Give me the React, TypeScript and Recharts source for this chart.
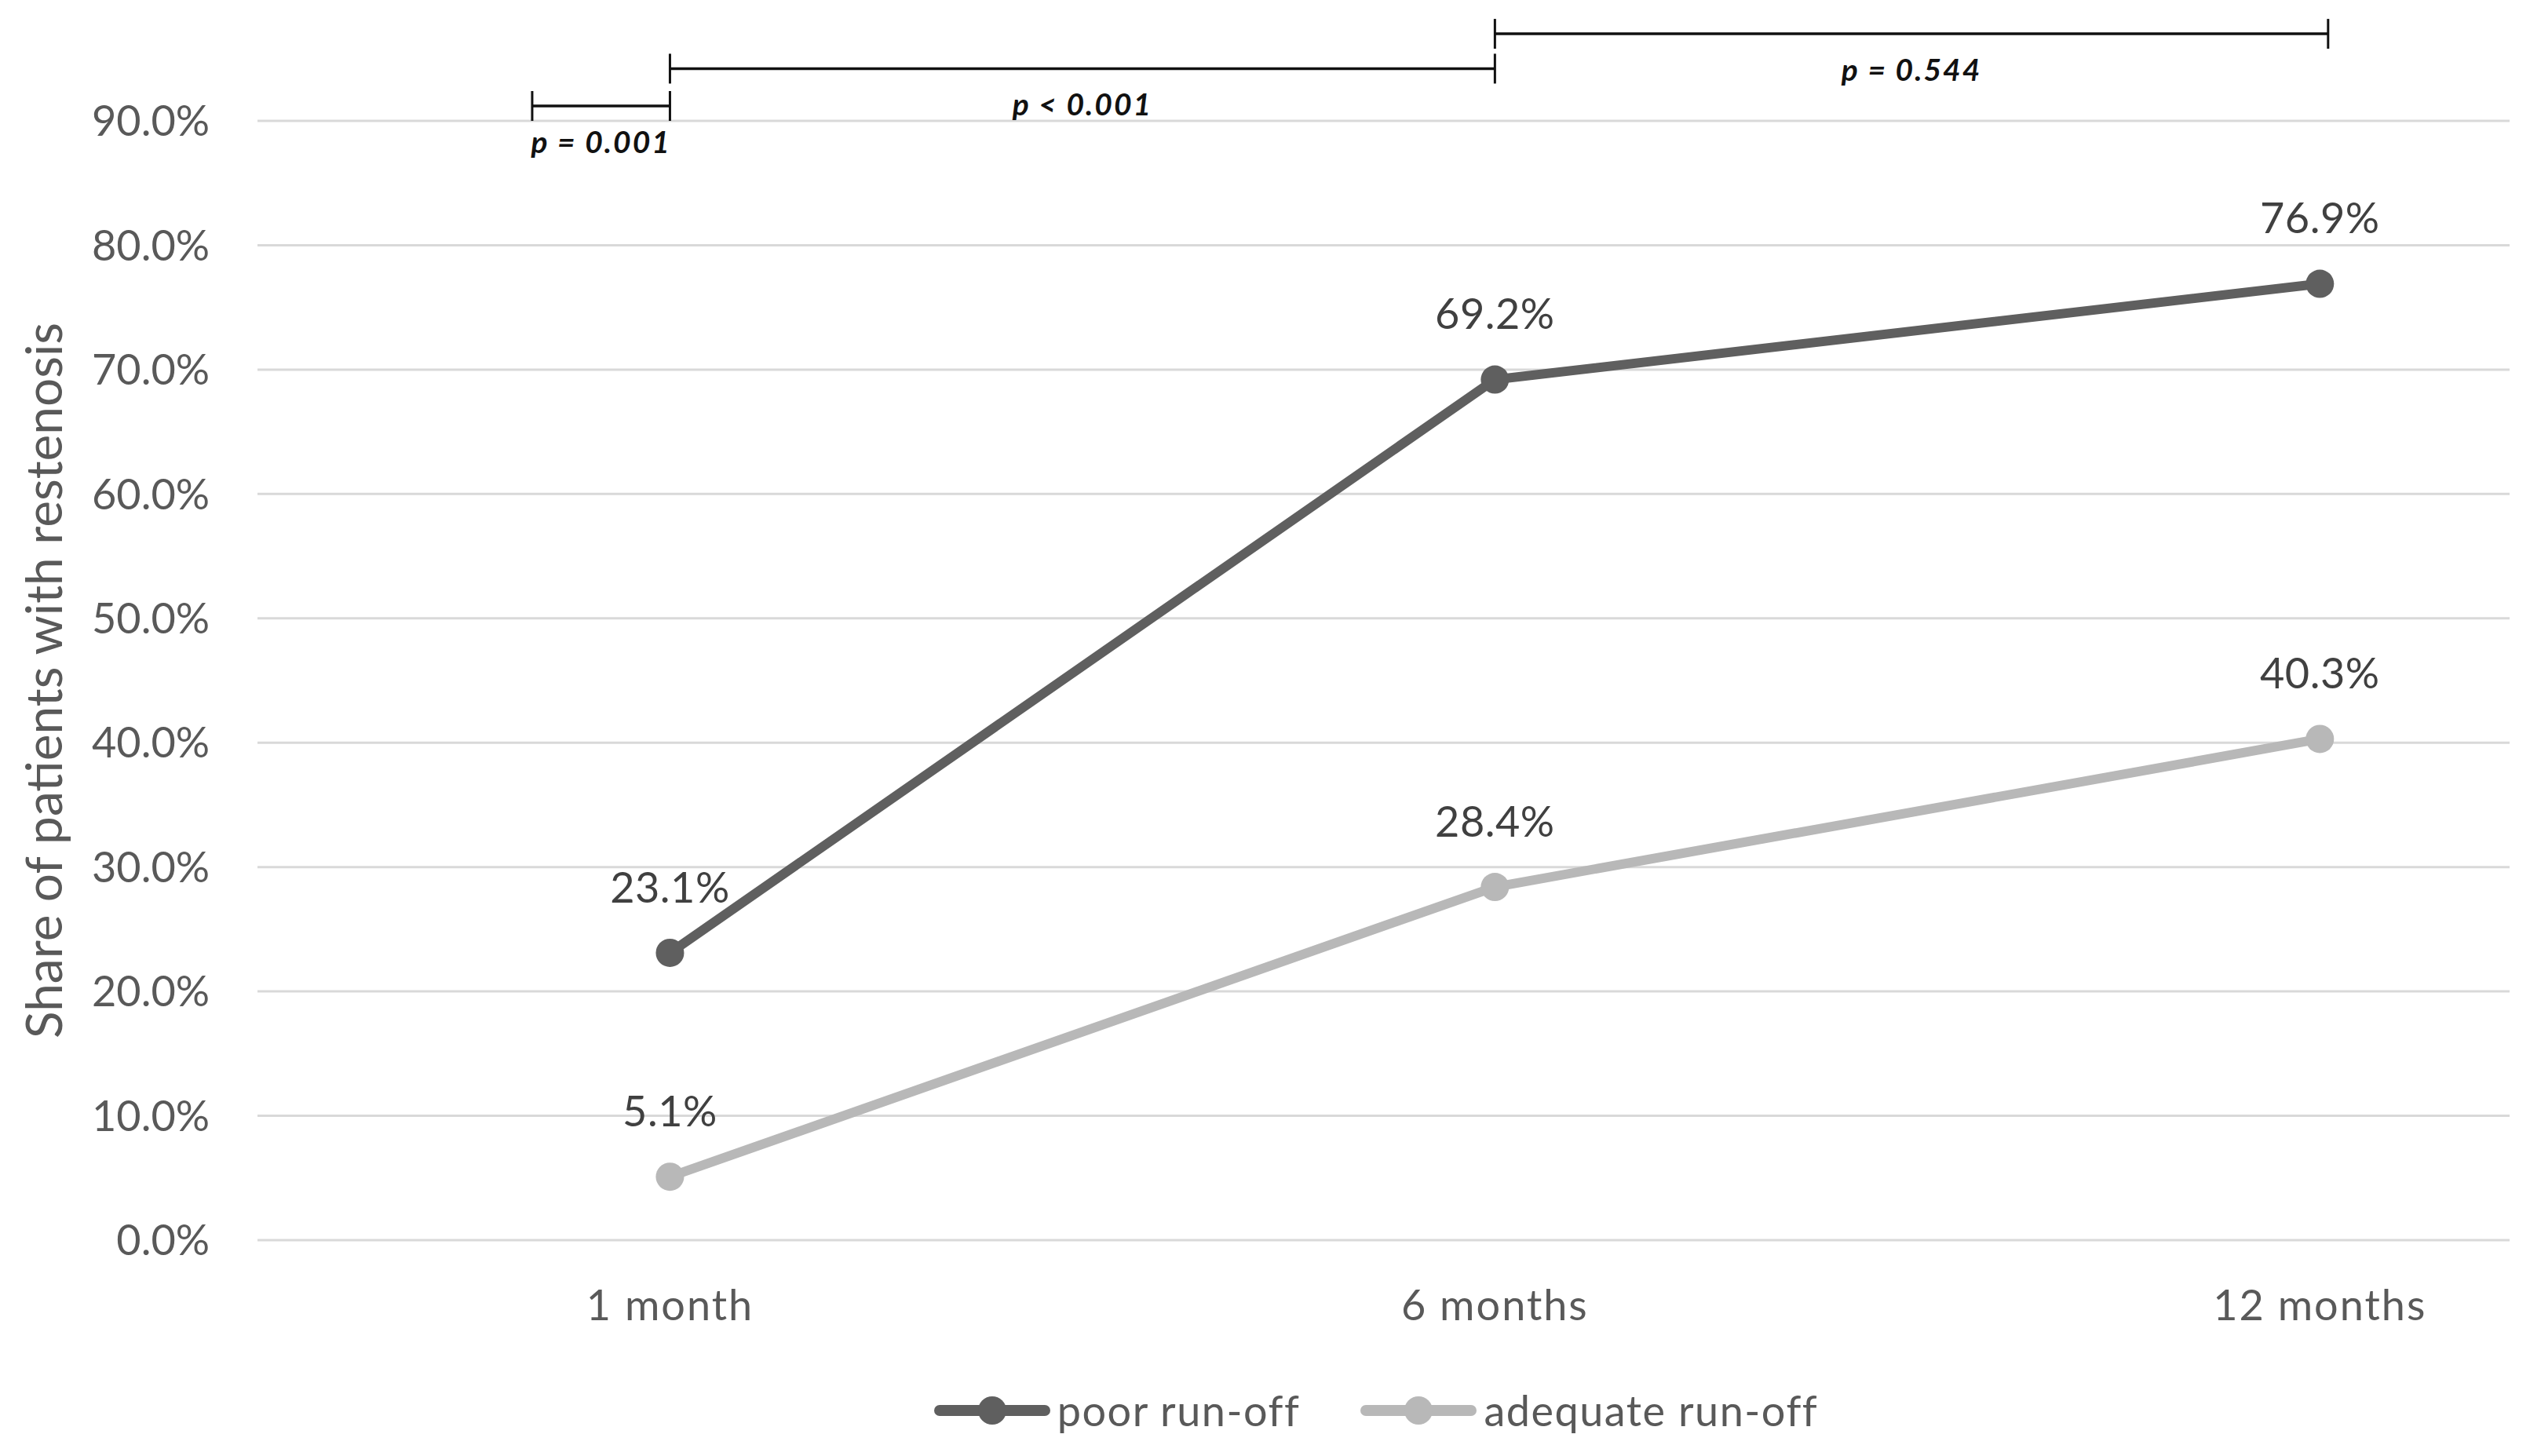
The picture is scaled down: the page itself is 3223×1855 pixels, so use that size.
import React from 'react';
import {
  LineChart,
  Line,
  XAxis,
  YAxis,
  CartesianGrid,
  ReferenceLine,
  LabelList,
  Legend,
} from 'recharts';

// ---------- data ----------
const categories = ['1 month', '6 months', '12 months'];
const poorRunOff = [23.1, 69.2, 76.9];
const adequateRunOff = [5.1, 28.4, 40.3];
const seriesNames = ['poor run-off', 'adequate run-off'];
const yTicks = [0, 10, 20, 30, 40, 50, 60, 70, 80, 90];
const yAxisTitle = 'Share of patients with restenosis';

// significance brackets (x in category-index units, level in % units)
const bracketFrom = [-0.167, 0, 1];
const bracketTo = [0, 1, 2.01];
const bracketLevel = [91.2, 94.2, 97.0];
const bracketLabels = ['p = 0.001', 'p < 0.001', 'p = 0.544'];

// ---------- styles ----------
const FONT = 'Lato, "Open Sans", sans-serif';
const AXIS_TEXT = '#595959';
const LABEL_TEXT = '#404040';
const POOR_COLOR = '#5f5f5f';
const ADEQUATE_COLOR = '#b8b8b8';
const GRID_COLOR = '#d9d9d9';

const table = categories.map((c, i) => ({
  t: i,
  category: c,
  poor: poorRunOff[i],
  adequate: adequateRunOff[i],
}));

const seriesColors = [POOR_COLOR, ADEQUATE_COLOR];

const makeBracket = (label: string) => (props: any) => {
  const { x1, y1, x2 } = props;
  const tick = 19;
  return (
    <g>
      <line x1={x1} y1={y1} x2={x2} y2={y1} stroke="#111" strokeWidth={3.5} />
      <line x1={x1} y1={y1 - tick} x2={x1} y2={y1 + tick} stroke="#111" strokeWidth={3} />
      <line x1={x2} y1={y1 - tick} x2={x2} y2={y1 + tick} stroke="#111" strokeWidth={3} />
      <text
        x={(x1 + x2) / 2}
        y={y1 + 46}
        dy="0.35em"
        textAnchor="middle"
        fontFamily={FONT}
        fontWeight="bold"
        fontStyle="italic"
        fontSize={39}
        letterSpacing={2}
        fill="#111"
      >
        {label}
      </text>
    </g>
  );
};

const DataLabel = (props: any) => {
  const { x, y, value } = props;
  if (x == null || y == null) return null;
  return (
    <text
      x={x}
      y={y - 83}
      dy="0.35em"
      textAnchor="middle"
      fontFamily={FONT}
      fontSize={54}
      letterSpacing={0.5}
      fill={LABEL_TEXT}
    >
      {`${Number(value).toFixed(1)}%`}
    </text>
  );
};

const YTitle = (props: any) => {
  const vb = props.viewBox || {};
  const cx = (vb.x || 0) + 54;
  const cy = (vb.y || 0) + (vb.height || 0) / 2;
  return (
    <text
      x={cx}
      y={cy}
      transform={`rotate(-90, ${cx}, ${cy})`}
      textAnchor="middle"
      dominantBaseline="central"
      fontFamily={FONT}
      fontSize={64}
      fill={AXIS_TEXT}
    >
      {yAxisTitle}
    </text>
  );
};

const LegendContent = () => (
  <div
    style={{
      height: 100,
      display: 'flex',
      justifyContent: 'center',
      alignItems: 'center',
      gap: 76,
    }}
  >
    {seriesNames.map((name, i) => (
      <div key={name} style={{ display: 'flex', alignItems: 'center' }}>
        <svg width={150} height={44}>
          <line
            x1={8}
            y1={22}
            x2={142}
            y2={22}
            stroke={seriesColors[i]}
            strokeWidth={14}
            strokeLinecap="round"
          />
          <circle cx={75} cy={22} r={18} fill={seriesColors[i]} />
        </svg>
        <span
          style={{
            marginLeft: 8,
            fontFamily: FONT,
            fontSize: 54,
            letterSpacing: 1.5,
            color: AXIS_TEXT,
            lineHeight: 1,
          }}
        >
          {name}
        </span>
      </div>
    ))}
  </div>
);

export default function App() {
  return (
    <div style={{ width: 3223, height: 1855, background: '#fff' }}>
      <style>{'body{margin:0;background:#fff;}'}</style>
      <LineChart
        width={3223}
        height={1855}
        data={table}
        margin={{ top: 154, right: 26, left: 0, bottom: 8 }}
      >
        <CartesianGrid vertical={false} stroke={GRID_COLOR} strokeWidth={3} />
        <XAxis
          dataKey="t"
          type="number"
          domain={[-0.5, 2.23]}
          ticks={[0, 1, 2]}
          allowDataOverflow
          tickFormatter={(v: number) => categories[v]}
          axisLine={false}
          tickLine={false}
          tickSize={0}
          tickMargin={64}
          height={167}
          tick={{ fontSize: 54, fill: AXIS_TEXT, fontFamily: FONT, letterSpacing: 2 }}
        />
        <YAxis
          domain={[0, 90]}
          ticks={yTicks}
          allowDataOverflow
          tickFormatter={(v: number) => `${v.toFixed(1)}%`}
          axisLine={false}
          tickLine={false}
          tickSize={0}
          tickMargin={61}
          width={328}
          tick={{ fontSize: 54, fill: AXIS_TEXT, fontFamily: FONT }}
          label={<YTitle />}
        />
        <Legend
          verticalAlign="bottom"
          wrapperStyle={{ left: 318, width: 2869 }}
          content={() => <LegendContent />}
        />
        {bracketLabels.map((lab, i) => (
          <ReferenceLine
            key={lab + i}
            segment={[
              { x: bracketFrom[i], y: bracketLevel[i] },
              { x: bracketTo[i], y: bracketLevel[i] },
            ]}
            ifOverflow="visible"
            shape={makeBracket(lab)}
          />
        ))}
        <Line
          dataKey="poor"
          name={seriesNames[0]}
          stroke={POOR_COLOR}
          strokeWidth={12}
          dot={{ r: 18, fill: POOR_COLOR, stroke: POOR_COLOR, strokeWidth: 0 }}
          activeDot={false}
          isAnimationActive={false}
        >
          <LabelList dataKey="poor" content={<DataLabel />} />
        </Line>
        <Line
          dataKey="adequate"
          name={seriesNames[1]}
          stroke={ADEQUATE_COLOR}
          strokeWidth={12}
          dot={{ r: 18, fill: ADEQUATE_COLOR, stroke: ADEQUATE_COLOR, strokeWidth: 0 }}
          activeDot={false}
          isAnimationActive={false}
        >
          <LabelList dataKey="adequate" content={<DataLabel />} />
        </Line>
      </LineChart>
    </div>
  );
}
